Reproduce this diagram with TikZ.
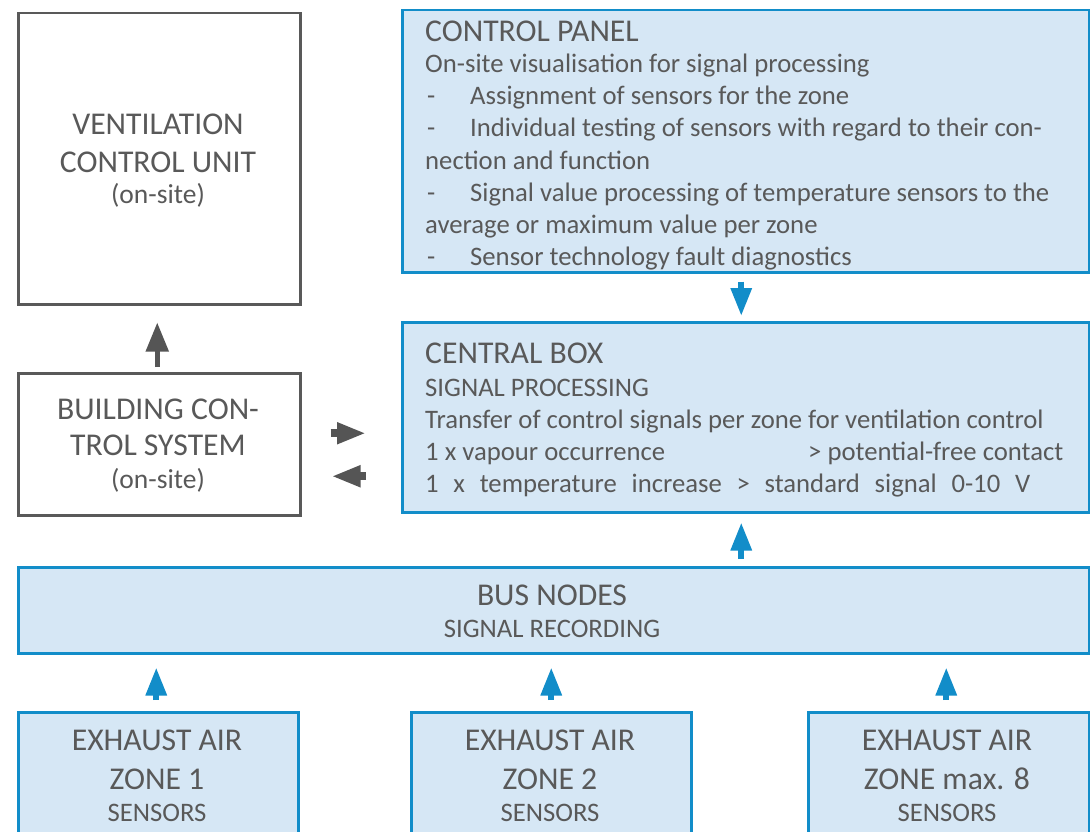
\documentclass[tikz,border=0pt]{standalone}
\usepackage{fontspec}
\setmainfont{Carlito}
\usetikzlibrary{arrows.meta,calc}
\definecolor{bfill}{RGB}{214,231,245}
\definecolor{bline}{RGB}{18,141,201}
\definecolor{tgray}{RGB}{89,89,89}
\definecolor{agray}{RGB}{85,85,85}
\begin{document}
\begin{tikzpicture}[x=1pt,y=-1pt,
  bluebox/.style={draw=bline,fill=bfill,line width=2.5pt,rectangle,inner sep=0pt,anchor=north west},
  graybox/.style={draw=tgray,fill=white,line width=2.5pt,rectangle,inner sep=0pt,anchor=north west},
  big/.style={font=\fontsize{31.7}{38}\selectfont,text=tgray,inner sep=0pt},
  body/.style={font=\fontsize{26.7}{32}\selectfont,text=tgray,inner sep=0pt},
  note/.style={font=\fontsize{27.5}{32}\selectfont,text=tgray,inner sep=0pt},
  barrow/.style={draw=bline,line width=6pt,-{Triangle[length=28pt,width=20pt]}},
  garrow/.style={draw=agray,line width=5pt,-{Triangle[length=29pt,width=22pt]}},
  harrow/.style={draw=agray,line width=8pt,-{Triangle[length=29pt,width=20pt]}}]
\useasboundingbox (0,0) rectangle (1090,832);
\clip (0,0) rectangle (1090,832);
\fill[white] (0,0) rectangle (1090,832);
% boxes
\node[graybox,minimum width=282pt,minimum height=291pt] (vcu) at (17,12) {};
\node[bluebox,minimum width=687pt,minimum height=262pt] (cp) at (401,9) {};
\node[graybox,minimum width=282pt,minimum height=142pt] (bcs) at (17,372) {};
\node[bluebox,minimum width=687pt,minimum height=190pt] (cb) at (401,321) {};
\node[bluebox,minimum width=1071pt,minimum height=86pt] (bus) at (17,566) {};
\node[bluebox,minimum width=280pt,minimum height=150pt] (z1) at (17,711) {};
\node[bluebox,minimum width=280pt,minimum height=150pt] (z2) at (410,711) {};
\node[bluebox,minimum width=281pt,minimum height=150pt] (z3) at (807,711) {};
% arrows
\draw[barrow] ($(cp.south)+(-4.5,8)$) -- ($(cb.north)+(-4.5,-5)$);
\draw[barrow] ($(bus.north -| cb.south)+(-4.5,-7)$) -- ($(cb.south)+(-4.5,9)$);
\foreach \z/\dx in {z1/-2,z2/0,z3/-2.5}{
  \draw[barrow] ($(\z.north)+(\dx,-11)$) -- ($(\z.north |- bus.south)+(\dx,13)$);
}
\draw[garrow] ($(bcs.north)+(-2,-5)$) -- ($(vcu.south)+(-2,17)$);
\draw[harrow] ($(bcs.east)+(29,-11)$) -- ($(cb.west |- bcs.east)+(-35,-11)$);
\draw[harrow] ($(cb.west |- bcs.east)+(-35,32)$) -- ($(bcs.east)+(30,32)$);
% ventilation control unit
\node[big,anchor=base] (vcu1) at (158,135) {VENTILATION};
\node[big,anchor=base] (vcu2) at (158,172) {CONTROL UNIT};
\node[note,anchor=base] (vcu3) at (158,204) {(on-site)};
% building control system
\node[big,anchor=base] (bcs1) at (158,419) {BUILDING CON-};
\node[big,anchor=base] (bcs2) at (158,455) {TROL SYSTEM};
\node[note,anchor=base] (bcs3) at (158,488) {(on-site)};
% control panel
\node[big,anchor=base west] (cp0) at (425,42) {CONTROL PANEL};
\node[body,anchor=base west] (cp1) at (425,73) {On-site visualisation for signal processing};
\node[body,anchor=base west] (cp2) at (425,105) {\makebox[45pt][l]{\hspace{2pt}-}Assignment of sensors for the zone};
\node[body,anchor=base west] (cp3) at (425,137) {\makebox[45pt][l]{\hspace{2pt}-}Individual testing of sensors with regard to their con-};
\node[body,anchor=base west] (cp4) at (425,169) {nection and function};
\node[body,anchor=base west] (cp5) at (425,201) {\makebox[45pt][l]{\hspace{2pt}-}Signal value processing of temperature sensors to the};
\node[body,anchor=base west] (cp6) at (425,233) {average or maximum value per zone};
\node[body,anchor=base west] (cp7) at (425,265) {\makebox[45pt][l]{\hspace{2pt}-}Sensor technology fault diagnostics};
% central box
\node[big,anchor=base west] (cb0) at (425,363) {CENTRAL BOX};
\node[body,anchor=base west] (cb1) at (425,396) {SIGNAL PROCESSING};
\node[body,anchor=base west] (cb2) at (425,428) {Transfer of control signals per zone for ventilation control};
\node[body,anchor=base west] (cb3) at (425,460) {1 x vapour occurrence};
\node[body,anchor=base west] (cb3r) at (808,460) {> potential-free contact};
\node[body,anchor=base west] (cb4) at (425,492) {\makebox[605pt][s]{1 x temperature increase > standard signal 0-10 V}};
% bus nodes
\node[big,anchor=base] (bus1) at (552,605) {BUS NODES};
\node[body,anchor=base] (bus2) at (552,637) {SIGNAL RECORDING};
% zones
\node[big,anchor=base] (z1a) at (157,750) {EXHAUST AIR};
\node[big,anchor=base] (z1b) at (157,789) {ZONE 1};
\node[body,anchor=base] (z1c) at (157,821) {SENSORS};
\node[big,anchor=base] (z2a) at (550,750) {EXHAUST AIR};
\node[big,anchor=base] (z2b) at (550,789) {ZONE 2};
\node[body,anchor=base] (z2c) at (550,821) {SENSORS};
\node[big,anchor=base] (z3a) at (947,750) {EXHAUST AIR};
\node[big,anchor=base] (z3b) at (947,789) {ZONE max. 8};
\node[body,anchor=base] (z3c) at (947,821) {SENSORS};
\end{tikzpicture}
\end{document}
